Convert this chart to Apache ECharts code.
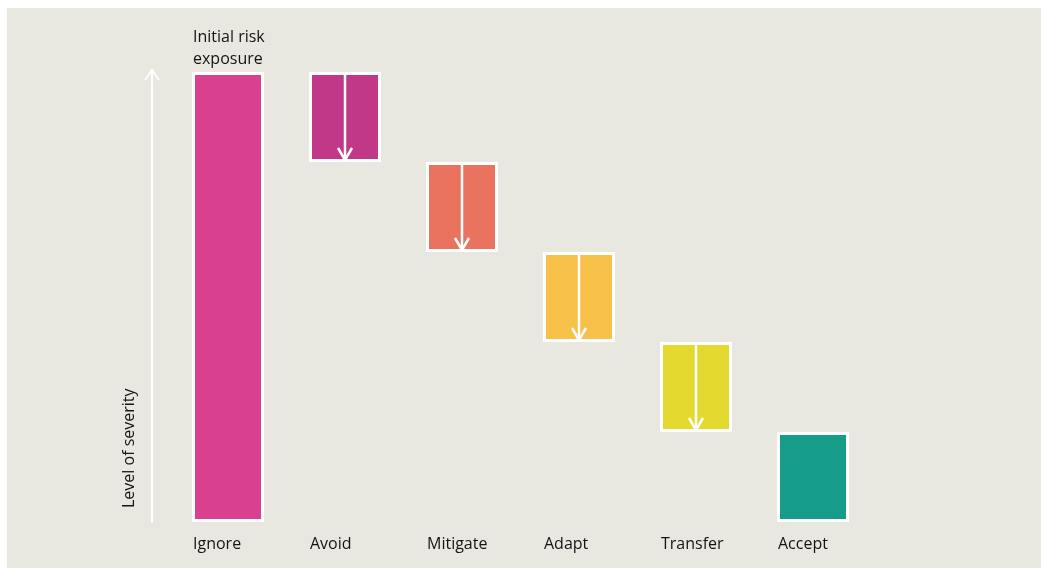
<!DOCTYPE html>
<html>
<head>
<meta charset="utf-8">
<script src="https://cdn.jsdelivr.net/npm/echarts@6/dist/echarts.min.js"></script>
<style>
  html, body { margin: 0; padding: 0; background: #ffffff; }
  #chart { width: 1041px; height: 568px; }
</style>
</head>
<body>
<div id="chart"></div>
<script>
// Risk response options: each bar starts where the previous one ends
const categories = ['Ignore', 'Avoid', 'Mitigate', 'Adapt', 'Transfer', 'Accept'];
const baseValues = [0, 4, 3, 2, 1, 0];     // invisible offset under each bar
const barValues = [5, 1, 1, 1, 1, 1];      // visible bar height
const barColors = ['#D9418E', '#C03887', '#EA735F', '#F7C048', '#E4D92E', '#169D8A'];
const arrowCategories = [1, 2, 3, 4];      // bars that carry a downward arrow
const yTicks = [0, 5];

const FONT = '"Open Sans", "Noto Sans", sans-serif';
const FONT_SIZE = 16;
const TEXT = '#141414';
const BAR_WIDTH = 72;

const chart = echarts.init(document.getElementById('chart'), null, { renderer: 'canvas' });

const arrowData = arrowCategories.map(i => [i, baseValues[i] + barValues[i], baseValues[i]]);

const option = {
  animation: false,
  backgroundColor: '#ffffff',
  grid: { left: 169.5, right: 169.5, top: 72, bottom: 46 },
  xAxis: {
    type: 'category',
    data: categories,
    axisLine: { show: false },
    axisTick: { show: false },
    axisLabel: {
      interval: 0,
      hideOverlap: false,
      margin: 14,
      color: TEXT,
      fontFamily: FONT,
      fontSize: FONT_SIZE,
      formatter: v => '{a|' + v + '}',
      rich: { a: { width: 70, align: 'left', color: TEXT, fontFamily: FONT, fontSize: FONT_SIZE } }
    }
  },
  yAxis: {
    type: 'value',
    min: yTicks[0],
    max: yTicks[1],
    offset: 17.5,
    splitLine: { show: false },
    axisTick: { show: false },
    axisLabel: { show: false },
    axisLine: { show: true, lineStyle: { color: '#ffffff', width: 2 } }
  },
  series: [
    {
      type: 'bar',
      stack: 'risk',
      data: baseValues,
      barWidth: BAR_WIDTH,
      itemStyle: { color: 'transparent' },
      silent: true
    },
    {
      type: 'bar',
      stack: 'risk',
      barWidth: BAR_WIDTH,
      data: barValues.map((v, i) => {
        const item = {
          value: v,
          itemStyle: { color: barColors[i], borderColor: '#ffffff', borderWidth: 3 }
        };
        if (i === 0) {
          item.label = {
            show: true,
            position: [1, -46],
            align: 'left',
            verticalAlign: 'top',
            formatter: 'Initial risk\nexposure',
            color: TEXT,
            fontFamily: FONT,
            fontSize: FONT_SIZE,
            lineHeight: 22
          };
        }
        return item;
      })
    },
    {
      type: 'custom',
      data: arrowData,
      z: 5,
      renderItem: (params, api) => {
        const top = api.coord([api.value(0), api.value(1)]);
        const bottom = api.coord([api.value(0), api.value(2)]);
        const x = Math.round(top[0]);
        const y0 = top[1] + 1;
        const y1 = bottom[1] - 2;
        const style = { stroke: '#ffffff', lineWidth: 2.5, fill: 'none' };
        return {
          type: 'group',
          children: [
            { type: 'line', shape: { x1: x, y1: y0, x2: x, y2: y1 }, style },
            { type: 'polyline', shape: { points: [[x - 7, y1 - 12], [x, y1], [x + 7, y1 - 12]] }, style }
          ]
        };
      }
    }
  ]
};

chart.setOption(option);

// Background panel, axis arrowhead and axis title
const gridLeft = 169.5;
const ax = Math.round(gridLeft - 17.5);
const yTop = chart.convertToPixel({ yAxisIndex: 0 }, yTicks[1]);
const yBottom = chart.convertToPixel({ yAxisIndex: 0 }, yTicks[0]);

chart.setOption({
  graphic: [
    {
      type: 'rect',
      z: -10,
      silent: true,
      shape: { x: 7, y: 8, width: 1041 - 7, height: 568 - 8 },
      style: { fill: '#E8E7E0' }
    },
    {
      type: 'polyline',
      z: 10,
      shape: { points: [[ax - 7, yTop + 8], [ax, yTop - 2], [ax + 7, yTop + 8]] },
      style: { stroke: '#ffffff', lineWidth: 2, fill: 'none' }
    },
    {
      type: 'text',
      x: 129,
      y: yBottom - 14,
      rotation: Math.PI / 2,
      style: {
        text: 'Level of severity',
        fill: TEXT,
        font: FONT_SIZE + 'px ' + FONT,
        textAlign: 'left',
        textVerticalAlign: 'middle'
      }
    }
  ]
});
</script>
</body>
</html>
